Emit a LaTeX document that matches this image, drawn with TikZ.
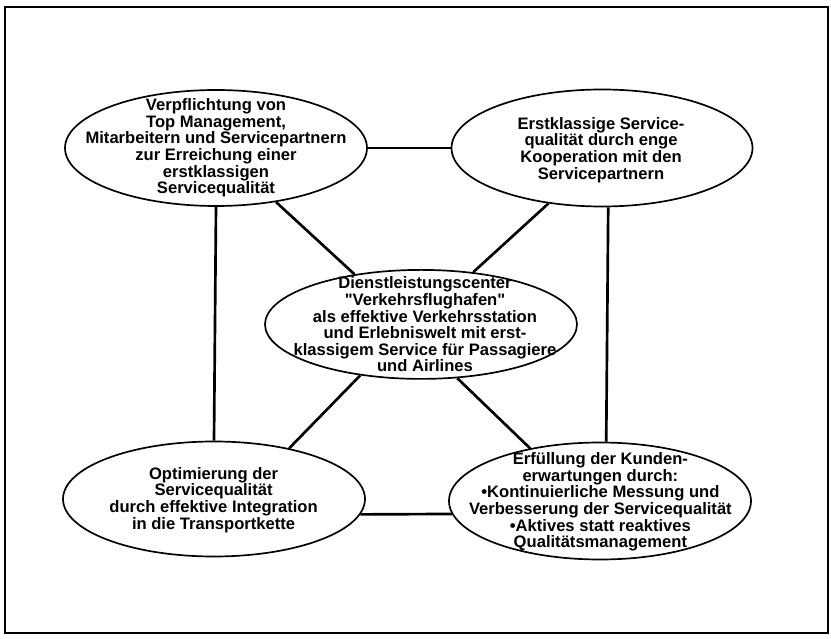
\documentclass[tikz,border=0pt]{standalone}
\usepackage{fontspec}
\setmainfont{Liberation Sans}
\usetikzlibrary{shapes.geometric}
\begin{document}
\begin{tikzpicture}[
    oval/.style={ellipse,draw,line width=1.2pt,inner sep=0pt},
    txt/.style={align=center,inner sep=0pt,font=\bfseries\fontsize{11.8}{11.8}\selectfont},
    link/.style={line width=1.9pt}]
  \useasboundingbox (0,0) rectangle (20.775,15.95);
  \draw [line width=1.4pt] (0.125,0.125) rectangle (20.7,15.775);
  % ellipses
  \node [oval,minimum width=7.55cm,minimum height=2.9cm] (tl) at (5.4,12.25) {};
  \node [oval,minimum width=7.525cm,minimum height=2.925cm] (tr) at (15.05,12.25) {};
  \node [oval,minimum width=7.8cm,minimum height=2.725cm] (c) at (10.525,7.84) {};
  \node [oval,minimum width=7.55cm,minimum height=2.875cm] (bl) at (5.35,3.475) {};
  \node [oval,minimum width=7.55cm,minimum height=2.925cm] (br) at (15.0,3.425) {};
  % texts
  \node [txt] (tltext) at (tl) {Verpflichtung von\\Top Management,\\Mitarbeitern und Servicepartnern\\zur Erreichung einer\\erstklassigen\\Servicequalität};
  \node [txt] (trtext) at (15.025,12.2) {Erstklassige Service-\\qualität durch enge\\Kooperation mit den\\Servicepartnern};
  \node [txt] (ctext) at (10.625,7.84) {Dienstleistungscenter\\\textquotedbl Verkehrsflughafen\textquotedbl\\als effektive Verkehrsstation\\und Erlebniswelt mit erst-\\klassigem Service für Passagiere\\und Airlines};
  \node [txt] (bltext) at (5.34,3.45) {Optimierung der\\Servicequalität\\durch effektive Integration\\in die Transportkette};
  \node [txt] (brtext) at (15.01,3.4) {Erfüllung der Kunden-\\erwartungen durch:\\\textbullet Kontinuierliche Messung und\\Verbesserung der Servicequalität\\\textbullet Aktives statt reaktives\\Qualitätsmanagement};
  % connections
  \draw [link] (tl.east) -- (tr.west);
  \draw [link] (bl.-6.7) -- (br.185.9);
  \draw [link] (tl.south) -- (bl.north);
  \draw [link] (tr.-84) -- (br.84);
  \draw [link] (tl.-42.5) -- (c.143.8);
  \draw [link] (tr.226.8) -- (c.45.2);
  \draw [link] (bl.34.9) -- (c.220.9);
  \draw [link] (br.143.1) -- (c.-56.6);
\end{tikzpicture}
\end{document}
